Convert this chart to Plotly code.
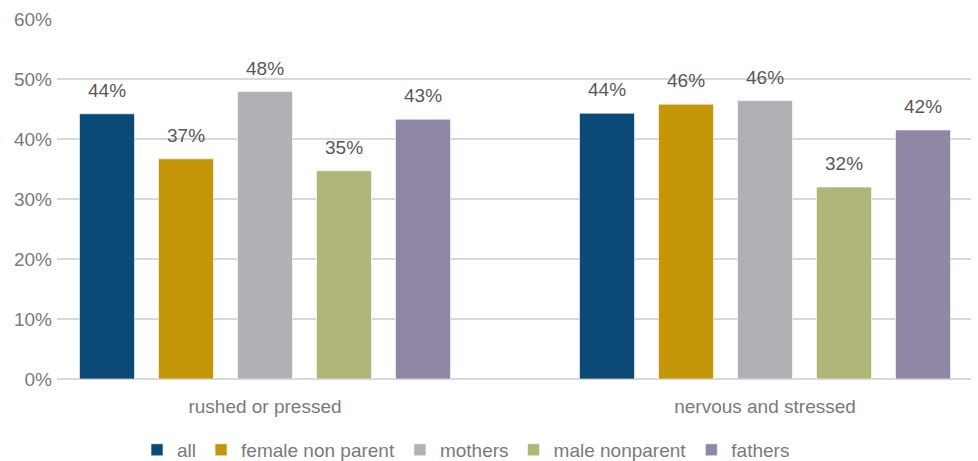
import plotly.graph_objects as go

# Survey results: share of respondents reporting each feeling
categories = ["rushed or pressed", "nervous and stressed"]
series_names = ["all", "female non parent", "mothers", "male nonparent", "fathers"]
all_vals = [0.442, 0.443]
female_non_parent = [0.367, 0.458]
mothers = [0.479, 0.464]
male_nonparent = [0.347, 0.320]
fathers = [0.433, 0.415]
y_ticks = [0, 0.1, 0.2, 0.3, 0.4, 0.5, 0.6]
y_tick_labels = ["0%", "10%", "20%", "30%", "40%", "50%", "60%"]

series_values = [all_vals, female_non_parent, mothers, male_nonparent, fathers]
colors = ["#0B4A76", "#C4960A", "#B0B1B4", "#B0B57A", "#9087A6"]

FONT = "Arial, Liberation Sans, sans-serif"
TICK_GREY = "#7A7A7A"
LABEL_GREY = "#595959"

pitch = 0.158      # distance between bars inside a group (axis units)
bar_width = 0.11
group_pos = list(range(len(categories)))

fig = go.Figure()
annotations = []
for i, (name, vals, col) in enumerate(zip(series_names, series_values, colors)):
    xs = [g + (i - 2) * pitch for g in group_pos]
    fig.add_trace(go.Bar(
        x=xs, y=vals, name=name, width=bar_width,
        marker=dict(color=col, line=dict(color="rgba(255,255,255,0.6)", width=1)),
        hoverinfo="skip",
    ))
    for x, v in zip(xs, vals):
        annotations.append(dict(
            x=x, y=v, xref="x", yref="y", text=f"{v:.0%}", showarrow=False,
            yanchor="bottom", yshift=11,
            font=dict(family=FONT, size=19, color=LABEL_GREY),
        ))

fig.update_layout(
    width=978, height=461,
    margin=dict(l=57, r=7, t=19, b=82, autoexpand=False),
    paper_bgcolor="white", plot_bgcolor="white",
    barmode="overlay",
    font=dict(family=FONT, size=19, color=TICK_GREY),
    annotations=annotations,
    showlegend=True,
    legend=dict(
        orientation="h", xref="container", x=0.4765, xanchor="center",
        yref="container", y=0.024, yanchor="middle",
        font=dict(family=FONT, size=19, color=TICK_GREY),
        itemwidth=30, tracegroupgap=0,
    ),
)
fig.update_xaxes(
    range=[-0.416, 1.412],
    tickvals=group_pos, ticktext=categories,
    showgrid=False, zeroline=False, showline=False,
    ticks="outside", ticklen=10, tickcolor="rgba(0,0,0,0)",
    tickfont=dict(family=FONT, size=19, color=TICK_GREY),
    automargin=False, fixedrange=True,
)
fig.update_yaxes(
    range=[0, 0.6],
    tickvals=y_ticks, ticktext=y_tick_labels,
    showgrid=True, gridcolor="#D9D9D9", gridwidth=1.5,
    zeroline=True, zerolinecolor="#D9D9D9", zerolinewidth=1.5,
    showline=False, ticks="", ticklabelstandoff=4,
    tickfont=dict(family=FONT, size=19, color=TICK_GREY),
    automargin=False, fixedrange=True,
)

fig.write_html("out.html")
